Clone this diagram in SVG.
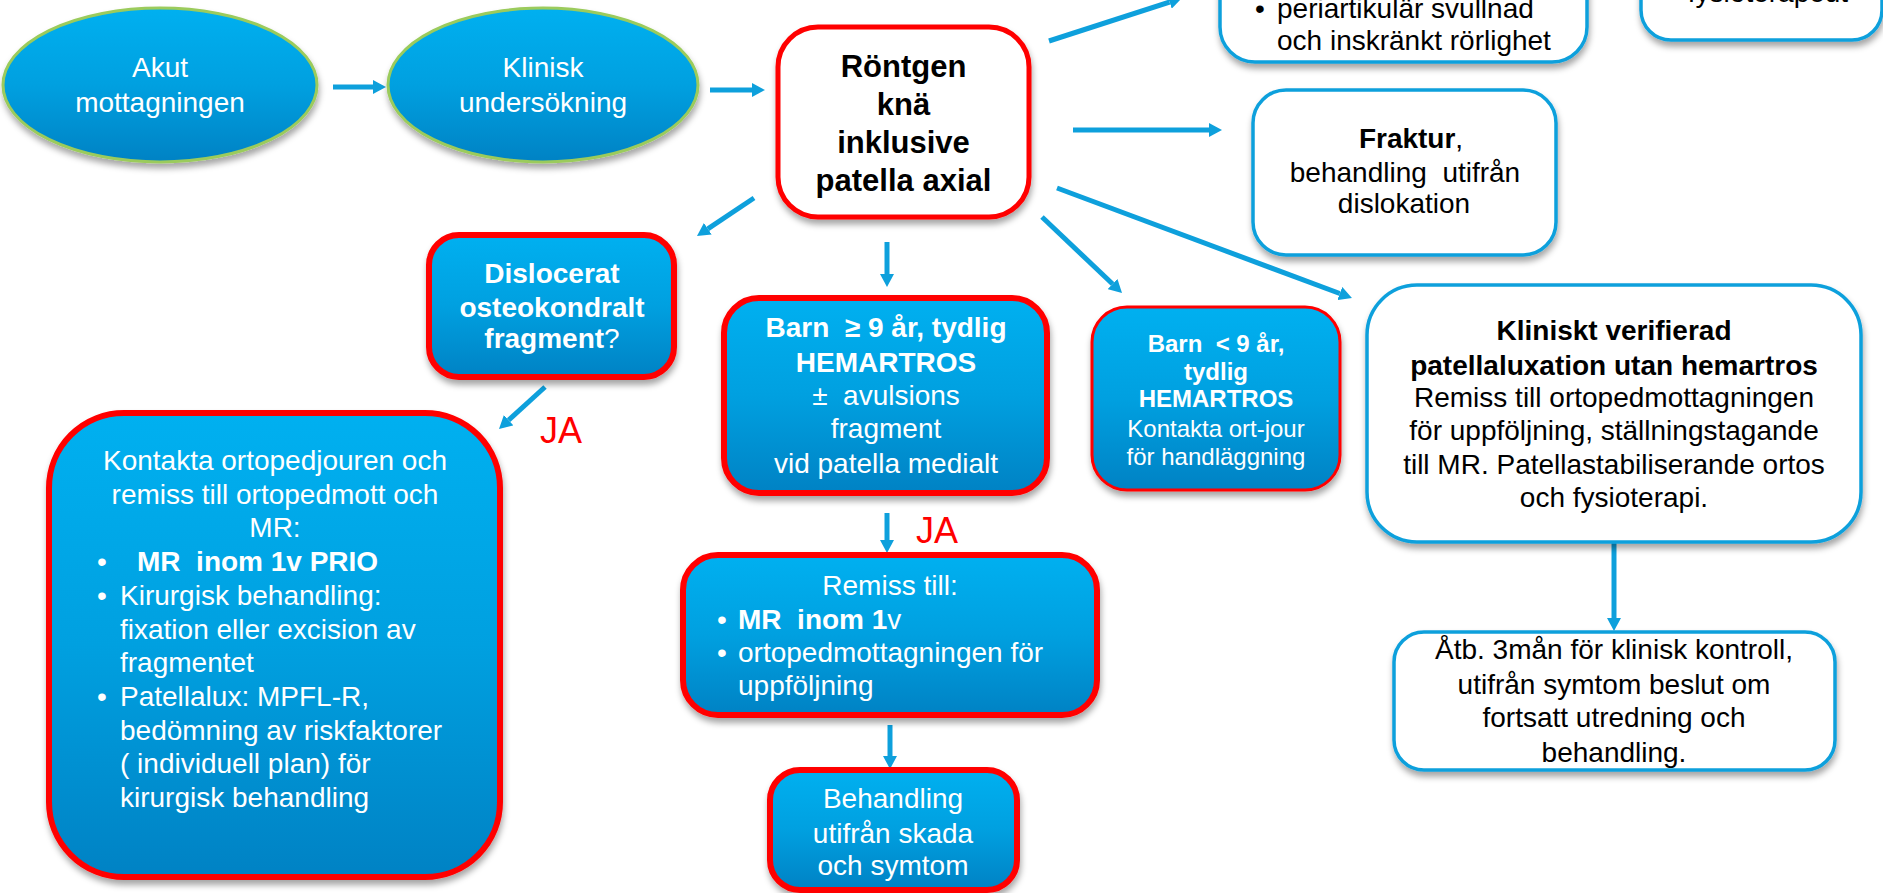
<svg xmlns="http://www.w3.org/2000/svg" width="1883" height="893" viewBox="0 0 1883 893">
<defs>
<linearGradient id="bg" x1="0" y1="0" x2="0" y2="1">
<stop offset="0" stop-color="#00B0F0"/>
<stop offset="0.5" stop-color="#00A0E0"/>
<stop offset="1" stop-color="#0082C4"/>
</linearGradient>
<filter id="sh" x="-10%" y="-10%" width="120%" height="130%">
<feDropShadow dx="1" dy="5" stdDeviation="3" flood-color="#000" flood-opacity="0.35"/>
</filter>
<marker id="ah" markerUnits="userSpaceOnUse" markerWidth="13" markerHeight="14" refX="0" refY="7" orient="auto">
<path d="M0,0 L13,7 L0,14 z" fill="#0EA0DC"/>
</marker>
<style>
.t{font-family:"Liberation Sans",Arial,Helvetica,sans-serif;font-size:28px;white-space:pre}
.w{fill:#fff}
.k{fill:#000}
.b{font-weight:bold}
.m{text-anchor:middle}
.ell{fill:url(#bg);stroke:#9BCB5B;stroke-width:3;filter:url(#sh)}
.rb{fill:url(#bg);stroke:#FF0000;stroke-width:6;filter:url(#sh)}
.rbt{fill:url(#bg);stroke:#FF0000;stroke-width:3;filter:url(#sh)}
.rw{fill:#fff;stroke:#FF0000;stroke-width:5;filter:url(#sh)}
.bw{fill:#fff;stroke:#0EA0DC;stroke-width:3.5;filter:url(#sh)}
.ja{font-family:"Liberation Sans",Arial,Helvetica,sans-serif;font-size:36px;fill:#FF0000}
.c{stroke:#0EA0DC;stroke-width:5;fill:none;marker-end:url(#ah)}
</style>
</defs>
<rect width="1883" height="893" fill="#fff"/>

<g id="connectors">
<line class="c" x1="333" y1="87" x2="373" y2="87"/>
<line class="c" x1="710" y1="90" x2="752" y2="90"/>
<line class="c" x1="1049" y1="41" x2="1169.6" y2="2"/>
<line class="c" x1="1073" y1="130" x2="1209" y2="130"/>
<line class="c" x1="1057" y1="188" x2="1339.8" y2="293.5"/>
<line class="c" x1="1042" y1="217" x2="1112.6" y2="284"/>
<line class="c" x1="887" y1="242" x2="887" y2="274"/>
<line class="c" x1="754" y1="198" x2="707.8" y2="228.8"/>
<line class="c" x1="545" y1="387" x2="508.6" y2="420.2"/>
<line class="c" x1="887" y1="513" x2="887" y2="540"/>
<line class="c" x1="890" y1="725" x2="890" y2="756"/>
<line class="c" x1="1614" y1="542" x2="1614" y2="618"/>
<text class="ja" x="540" y="443">JA</text>
<text class="ja" x="916" y="543">JA</text>
</g>

<g id="akut">
<ellipse class="ell" cx="160" cy="85" rx="157" ry="77"/>
<text class="t w m" x="160" y="77">Akut</text>
<text class="t w m" x="160" y="112">mottagningen</text>
</g>

<g id="klinisk">
<ellipse class="ell" cx="543" cy="85" rx="155" ry="77"/>
<text class="t w m" x="543" y="77">Klinisk</text>
<text class="t w m" x="543" y="112">undersökning</text>
</g>

<g id="rontgen">
<rect class="rw" x="778" y="27" width="251" height="190" rx="40"/>
<text class="t k m b" style="font-size:31px" x="903.5" y="77">Röntgen</text>
<text class="t k m b" style="font-size:31px" x="903.5" y="115">knä</text>
<text class="t k m b" style="font-size:31px" x="903.5" y="153">inklusive</text>
<text class="t k m b" style="font-size:31px" x="903.5" y="191">patella axial</text>
</g>

<g id="svullnad">
<rect class="bw" x="1220" y="-80" width="367" height="142" rx="35"/>
<text class="t k" x="1255" y="18">•</text>
<text class="t k" x="1277" y="18">periartikulär svullnad</text>
<text class="t k" x="1277" y="50">och inskränkt rörlighet</text>
</g>

<g id="fysio">
<rect class="bw" x="1641" y="-80" width="241" height="120" rx="30"/>
<text class="t k m" x="1768" y="2">fysioterapeut</text>
</g>

<g id="fraktur">
<rect class="bw" x="1253" y="90" width="303" height="165" rx="33"/>
<text class="t k m" x="1411" y="148"><tspan class="b">Fraktur</tspan>,</text>
<text class="t k m" x="1405" y="182">behandling  utifrån</text>
<text class="t k m" x="1404" y="213">dislokation</text>
</g>

<g id="dislocerat">
<rect class="rb" x="429" y="235" width="245" height="142" rx="30"/>
<text class="t w m b" x="552" y="283">Dislocerat</text>
<text class="t w m b" x="552" y="317">osteokondralt</text>
<text class="t w m" x="552" y="348"><tspan class="b">fragment</tspan>?</text>
</g>

<g id="kontakta">
<rect class="rb" x="49" y="413" width="451" height="464" rx="75"/>
<text class="t w m" x="275" y="470">Kontakta ortopedjouren och</text>
<text class="t w m" x="275" y="504">remiss till ortopedmott och</text>
<text class="t w m" x="275" y="537">MR:</text>
<text class="t w" x="97" y="571">•</text>
<text class="t w b" x="137" y="571">MR  inom 1v PRIO</text>
<text class="t w" x="97" y="605">•</text>
<text class="t w" x="120" y="605">Kirurgisk behandling:</text>
<text class="t w" x="120" y="639">fixation eller excision av</text>
<text class="t w" x="120" y="672">fragmentet</text>
<text class="t w" x="97" y="706">•</text>
<text class="t w" x="120" y="706">Patellalux: MPFL-R,</text>
<text class="t w" x="120" y="740">bedömning av riskfaktorer</text>
<text class="t w" x="120" y="773">( individuell plan) för</text>
<text class="t w" x="120" y="807">kirurgisk behandling</text>
</g>

<g id="barn9plus">
<rect class="rb" x="724" y="298" width="323" height="195" rx="35"/>
<text class="t w m b" x="886" y="337">Barn  ≥ 9 år, tydlig</text>
<text class="t w m b" x="886" y="372">HEMARTROS</text>
<text class="t w m" x="886" y="405">±  avulsions</text>
<text class="t w m" x="886" y="438">fragment</text>
<text class="t w m" x="886" y="473">vid patella medialt</text>
</g>

<g id="barn9minus">
<rect class="rbt" x="1092" y="307" width="248" height="183" rx="35"/>
<text class="t w m b" style="font-size:24px" x="1216" y="352">Barn  &lt; 9 år,</text>
<text class="t w m b" style="font-size:24px" x="1216" y="380">tydlig</text>
<text class="t w m b" style="font-size:24px" x="1216" y="407">HEMARTROS</text>
<text class="t w m" style="font-size:24px" x="1216" y="437">Kontakta ort-jour</text>
<text class="t w m" style="font-size:24px" x="1216" y="465">för handläggning</text>
</g>

<g id="kliniskt">
<rect class="bw" x="1367" y="285" width="494" height="257" rx="50"/>
<text class="t k m b" x="1614" y="340">Kliniskt verifierad</text>
<text class="t k m b" x="1614" y="375">patellaluxation utan hemartros</text>
<text class="t k m" x="1614" y="407">Remiss till ortopedmottagningen</text>
<text class="t k m" x="1614" y="440">för uppföljning, ställningstagande</text>
<text class="t k m" x="1614" y="474">till MR. Patellastabiliserande ortos</text>
<text class="t k m" x="1614" y="507">och fysioterapi.</text>
</g>

<g id="remiss">
<rect class="rb" x="683" y="555" width="414" height="160" rx="35"/>
<text class="t w m" x="890" y="595">Remiss till:</text>
<text class="t w" x="717" y="629">•</text>
<text class="t w" x="738" y="629"><tspan class="b">MR  inom 1</tspan>v</text>
<text class="t w" x="717" y="662">•</text>
<text class="t w" x="738" y="662">ortopedmottagningen för</text>
<text class="t w" x="738" y="695">uppföljning</text>
</g>

<g id="behandling">
<rect class="rb" x="770" y="770" width="247" height="120" rx="30"/>
<text class="t w m" x="893" y="808">Behandling</text>
<text class="t w m" x="893" y="843">utifrån skada</text>
<text class="t w m" x="893" y="875">och symtom</text>
</g>

<g id="atb">
<rect class="bw" x="1394" y="632" width="441" height="138" rx="30"/>
<text class="t k m" x="1614" y="659">Åtb. 3mån för klinisk kontroll,</text>
<text class="t k m" x="1614" y="694">utifrån symtom beslut om</text>
<text class="t k m" x="1614" y="727">fortsatt utredning och</text>
<text class="t k m" x="1614" y="762">behandling.</text>
</g>
</svg>
